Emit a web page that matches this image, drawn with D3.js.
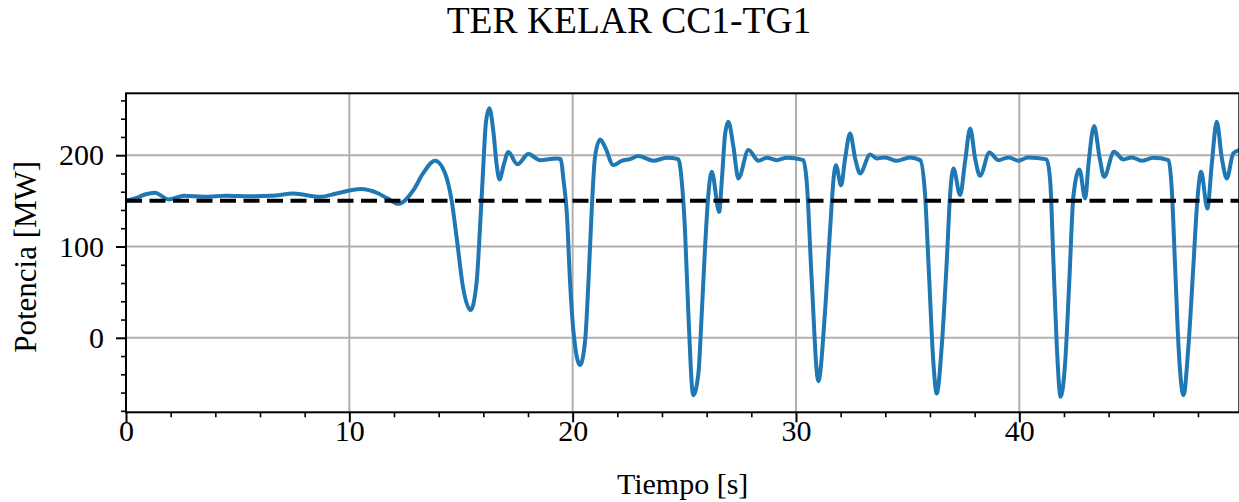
<!DOCTYPE html>
<html>
<head>
<meta charset="utf-8">
<script src="https://cdn.jsdelivr.net/npm/d3@7"></script>
<style>
  html, body { margin: 0; padding: 0; background: #ffffff; }
  svg { display: block; }
  text { font-family: "Liberation Serif", "Times New Roman", serif; fill: #000; }
</style>
</head>
<body>
<svg id="chart" width="1239" height="502"></svg>
<script>
// ---- Data ----
const titleText = "TER KELAR CC1-TG1";
const xLabel = "Tiempo [s]";
const yLabel = "Potencia [MW]";

const time = [0, 0.4, 0.85, 1.3, 1.9, 2.6, 3.5, 4.5, 5.5, 6.5, 7.5, 8.7, 9.43, 10.5, 11.3, 11.7, 12.2,
  12.87, 13.3, 13.84, 14.29, 14.59, 14.81, 15.1, 15.43, 15.7, 15.85, 15.97, 16.12, 16.27, 16.45, 16.6,
  16.72, 16.93, 17.12, 17.52, 18.02, 18.54, 19.29, 19.47, 19.59, 19.74, 19.88, 20.03, 20.33, 20.56,
  20.71, 20.86, 21.0, 21.23, 21.45, 21.82, 22.2, 22.57, 22.94, 23.62, 24.21, 24.73, 24.88, 25.03,
  25.18, 25.4, 25.63, 25.78, 25.93, 26.08, 26.23, 26.56, 26.68, 26.83, 26.97, 27.2, 27.42, 27.87,
  28.32, 28.69, 29.14, 29.59, 30.33, 30.48, 30.7, 31.0, 31.3, 31.53, 31.7, 31.79, 32.02, 32.2, 32.42,
  32.65, 32.87, 33.32, 33.62, 33.99, 34.51, 35.1, 35.56, 35.78, 35.93, 36.15, 36.3, 36.53, 36.75,
  36.9, 37.05, 37.35, 37.57, 37.8, 38.02, 38.24, 38.66, 39.06, 39.51, 39.96, 40.4, 41.22, 41.38,
  41.53, 41.68, 41.85, 42.05, 42.24, 42.42, 42.69, 42.95, 43.1, 43.35, 43.59, 43.8, 44.24, 44.66,
  45.03, 45.48, 46.0, 46.68, 46.82, 46.97, 47.13, 47.35, 47.57, 47.8, 47.95, 48.14, 48.42, 48.62,
  48.84, 49.06, 49.29, 49.58, 49.85];

const power = [150, 152.6, 157, 159, 151.6, 155.5, 154.4, 155.5, 155, 155.5, 158, 154.4, 158, 162.9, 158, 152.7, 146.8,
  161.8, 180, 193.9, 180, 149, 108.9, 54, 30.3, 61, 119.8, 174.6, 236.6, 251.5, 225.6, 189,
  173.5, 191, 203.5, 190, 201.2, 194.6, 196.5, 195.4, 172.7, 136, 63, 8.4, -29.9, -2.5,
  63, 143.5, 198, 217.3, 209, 189.2, 193.9, 195.7, 199, 193.9, 197.2, 195.7, 172.7, 118,
  26.7, -62.8, -39, 26.7, 99.7, 158, 181.8, 138, 172.7, 223.9, 236.6, 209, 174.6, 205.6,
  193.9, 197.2, 194.6, 197.2, 194.6, 171, 65, -47.5, 28.5, 119.8, 178.2, 189, 167, 196.5, 223.9,
  196.5, 180, 200.9, 196.5, 197.6, 193.9, 197.6, 194.6, 156.3, 83.2, -26.3, -61, -8, 83.2,
  156.3, 185.5, 156.3, 192.8, 229.3, 196.5, 177.4, 203, 194.6, 197.6, 193.9, 197.6, 195.4, 172.7,
  81.5, -9.9, -64.6, -28, 63, 154.4, 184.4, 152.7, 191, 231.9, 198, 176.4, 203.7, 195.4,
  197.6, 193.9, 197.2, 194.6, 165.4, 81.5, -9.9, -62.8, -9.9, 81.5, 143.5, 181.8, 141.7, 191,
  236.6, 198, 174.6, 202, 205.6];

const referencePower = [150, 150];          // dashed reference line
const referenceTime = [0, 49.85];

const xMajorTicks = [0, 10, 20, 30, 40];
const xMinorTicks = [2, 4, 6, 8, 12, 14, 16, 18, 22, 24, 26, 28, 32, 34, 36, 38, 42, 44, 46, 48];
const yMajorTicks = [0, 100, 200];
const yMinorTicks = [-80, -60, -40, -20, 20, 40, 60, 80, 120, 140, 160, 180, 220, 240, 260];
const xDomain = [0, 49.85];
const yDomain = [-81.6, 267.8];

// ---- Layout ----
const W = 1239, H = 502;
const plot = { left: 126, right: 1239.3, top: 93.3, bottom: 412.3 };

const svg = d3.select("#chart");
svg.append("rect").attr("width", W).attr("height", H).attr("fill", "#fff");

const x = d3.scaleLinear().domain(xDomain).range([plot.left, plot.right]);
const y = d3.scaleLinear().domain(yDomain).range([plot.bottom, plot.top]);

svg.append("defs").append("clipPath").attr("id", "clip")
  .append("rect").attr("x", plot.left).attr("y", plot.top)
  .attr("width", plot.right - plot.left).attr("height", plot.bottom - plot.top);

// grid
const grid = svg.append("g");
grid.selectAll(".gx").data(xMajorTicks).join("line")
  .attr("x1", d => x(d)).attr("x2", d => x(d))
  .attr("y1", plot.top).attr("y2", plot.bottom)
  .attr("stroke", "#b0b0b0").attr("stroke-width", 2);
grid.selectAll(".gy").data(yMajorTicks).join("line")
  .attr("x1", plot.left).attr("x2", plot.right)
  .attr("y1", d => y(d)).attr("y2", d => y(d))
  .attr("stroke", "#b0b0b0").attr("stroke-width", 2);

// series
const series = time.map((t, i) => ({ t, v: power[i] }));
const line = d3.line().x(d => x(d.t)).y(d => y(d.v)).curve(d3.curveMonotoneX);
const g = svg.append("g").attr("clip-path", "url(#clip)");
g.append("path").datum(series).attr("d", line)
  .attr("fill", "none").attr("stroke", "#1f77b4").attr("stroke-width", 4)
  .attr("stroke-linejoin", "round").attr("stroke-linecap", "round");

const refData = referenceTime.map((t, i) => ({ t, v: referencePower[i] }));
g.append("path").datum(refData).attr("d", d3.line().x(d => x(d.t)).y(d => y(d.v)))
  .attr("fill", "none").attr("stroke", "#000").attr("stroke-width", 4)
  .attr("stroke-dasharray", "16,7.5");

// axes
const xAxis = d3.axisBottom(x).tickValues(xMajorTicks).tickSize(10).tickSizeOuter(0)
  .tickPadding(3).tickFormat(d3.format("d"));
const xAxisMinor = d3.axisBottom(x).tickValues(xMinorTicks).tickSize(5).tickSizeOuter(0).tickFormat("");
const yAxis = d3.axisLeft(y).tickValues(yMajorTicks).tickSize(10).tickSizeOuter(0)
  .tickPadding(12).tickFormat(d3.format("d"));
const yAxisMinor = d3.axisLeft(y).tickValues(yMinorTicks).tickSize(5).tickSizeOuter(0).tickFormat("");

function styleAxis(sel) {
  sel.select(".domain").remove();
  sel.selectAll(".tick line").attr("stroke", "#000").attr("stroke-width", 2);
  sel.selectAll(".tick text").style("font-family", "'Liberation Serif', serif")
    .style("font-size", "30px").attr("fill", "#000");
}
svg.append("g").attr("transform", `translate(0,${plot.bottom})`).call(xAxis).call(styleAxis)
  .selectAll(".tick text").attr("dy", "0.54em");
svg.append("g").attr("transform", `translate(0,${plot.bottom})`).call(xAxisMinor).call(styleAxis)
  .selectAll(".tick line").attr("stroke-width", 1.6);
svg.append("g").attr("transform", `translate(${plot.left},0)`).call(yAxis).call(styleAxis);
svg.append("g").attr("transform", `translate(${plot.left},0)`).call(yAxisMinor).call(styleAxis)
  .selectAll(".tick line").attr("stroke-width", 1.6);

// spines
svg.append("rect").attr("x", plot.left).attr("y", plot.top)
  .attr("width", plot.right - plot.left).attr("height", plot.bottom - plot.top)
  .attr("fill", "none").attr("stroke", "#000").attr("stroke-width", 2);

// labels
svg.append("text").attr("x", 629).attr("y", 33).attr("text-anchor", "middle")
  .style("font-size", "37.5px").text(titleText);
svg.append("text").attr("x", (plot.left + plot.right) / 2).attr("y", 494).attr("text-anchor", "middle")
  .style("font-size", "30px").text(xLabel);
svg.append("text").attr("transform", `translate(36,${(plot.top + plot.bottom) / 2 + 4}) rotate(-90)`)
  .attr("text-anchor", "middle").style("font-size", "31px").text(yLabel);
</script>
</body>
</html>
